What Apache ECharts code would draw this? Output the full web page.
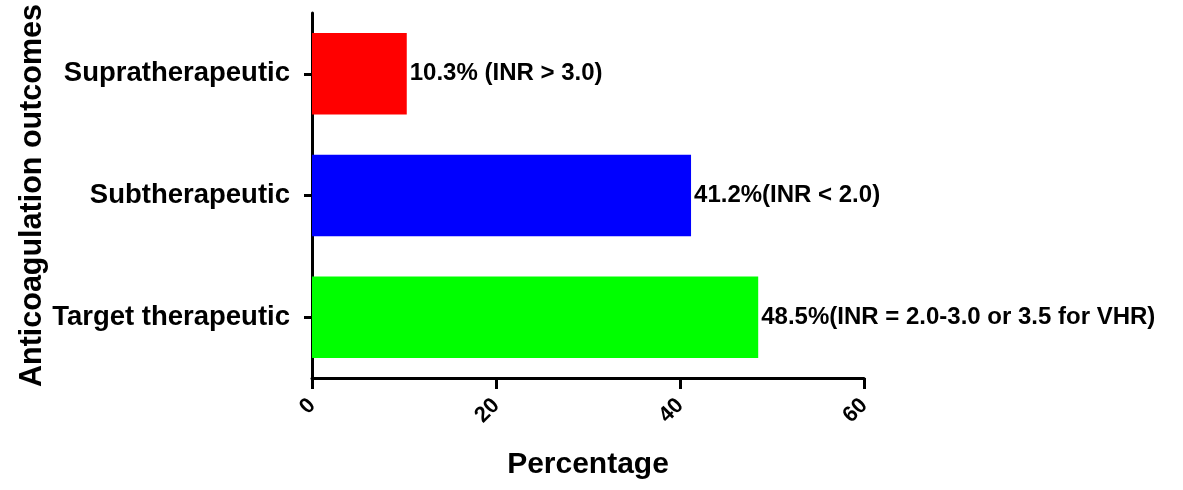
<!DOCTYPE html>
<html>
<head>
<meta charset="utf-8">
<script src="https://cdn.jsdelivr.net/npm/echarts@6/dist/echarts.min.js"></script>
<style>
html,body{margin:0;padding:0;background:#fff;}
#chart{width:1183px;height:490px;}
</style>
</head>
<body>
<div id="chart"></div>
<script>
const categories = ['Target therapeutic', 'Subtherapeutic', 'Supratherapeutic'];
const values = [48.5, 41.2, 10.3];
const barLabels = ['48.5%(INR = 2.0-3.0 or 3.5 for VHR)', '41.2%(INR < 2.0)', '10.3% (INR > 3.0)'];
const barColors = ['#00ff00', '#0000ff', '#ff0000'];
const xTicks = [0, 20, 40, 60];

const font = '"Liberation Sans", Arial, Helvetica, sans-serif';
const chart = echarts.init(document.getElementById('chart'));
chart.setOption({
  animation: false,
  backgroundColor: '#fff',
  grid: {left: 312, right: 319, top: 13, bottom: 112, containLabel: false},
  xAxis: {
    type: 'value',
    min: xTicks[0], max: xTicks[xTicks.length - 1], interval: 20,
    name: 'Percentage', nameLocation: 'middle', nameGap: 72,
    nameTextStyle: {fontFamily: font, fontWeight: 'bold', fontSize: 30, color: '#000'},
    axisLine: {show: true, lineStyle: {color: '#000', width: 3}},
    axisTick: {show: true, length: 11, lineStyle: {color: '#000', width: 3}},
    splitLine: {show: false},
    axisLabel: {rotate: 45, margin: 24, fontFamily: font, fontWeight: 'bold', fontSize: 22, color: '#000'}
  },
  yAxis: {
    type: 'category',
    data: categories,
    name: 'Anticoagulation outcomes', nameLocation: 'middle', nameGap: 262,
    nameTextStyle: {fontFamily: font, fontWeight: 'bold', fontSize: 30.5, color: '#000'},
    axisLine: {show: true, lineStyle: {color: '#000', width: 3}},
    axisTick: {show: true, alignWithLabel: true, length: 8, lineStyle: {color: '#000', width: 3}},
    splitLine: {show: false},
    axisLabel: {margin: 22, fontFamily: font, fontWeight: 'bold', fontSize: 27.5, color: '#000'}
  },
  series: [{
    type: 'bar',
    barCategoryGap: '33%',
    data: values.map((v, i) => ({value: v, itemStyle: {color: barColors[i]}, label: {formatter: barLabels[i]}})),
    label: {show: true, position: 'right', distance: 3, fontFamily: font, fontWeight: 'bold', fontSize: 24, color: '#000'}
  }]
});
</script>
</body>
</html>
